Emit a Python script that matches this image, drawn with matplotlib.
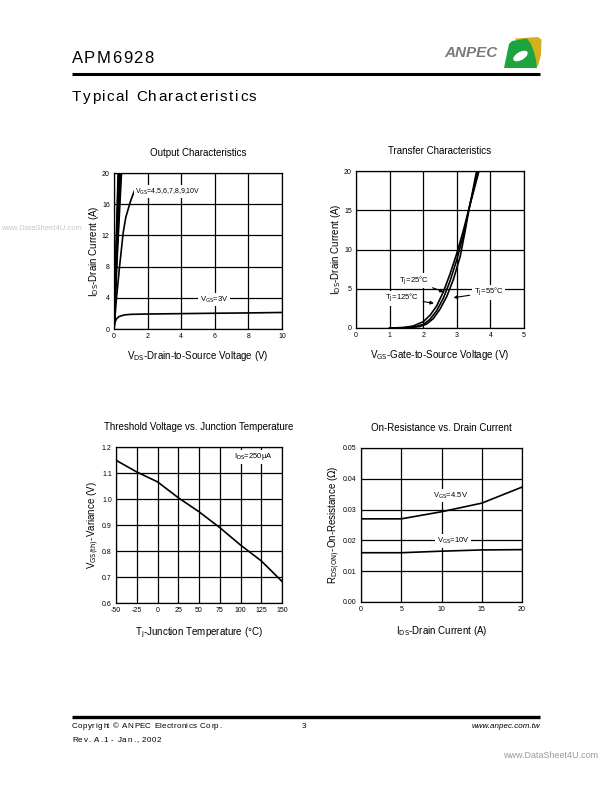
#!/usr/bin/env python3
# -*- coding: utf-8 -*-
# APM6928 datasheet page: typical characteristics (4 small plots)

import numpy as np
import matplotlib
matplotlib.use("Agg")
import matplotlib.pyplot as plt
from matplotlib.patches import Polygon, Ellipse

plt.rcParams["font.family"] = ["Liberation Sans Narrow", "Liberation Sans", "DejaVu Sans"]
plt.rcParams["mathtext.fontset"] = "custom"
plt.rcParams["mathtext.rm"] = "Liberation Sans Narrow"
plt.rcParams["mathtext.it"] = "Liberation Sans Narrow"
plt.rcParams["axes.unicode_minus"] = False

#%% data read from the page
# output characteristics
vds_3v = [0, 0.05, 0.15, 0.3, 0.6, 1.0, 2, 4, 6, 8, 10]
ids_3v = [0, 0.8, 1.3, 1.6, 1.8, 1.88, 1.92, 1.97, 2.02, 2.06, 2.12]
vds_4v = [0, 0.15, 0.34, 0.55, 0.7, 0.85, 1.0, 1.25]
ids_4v = [0, 4.0, 8.2, 12.4, 14.3, 15.4, 16.5, 17.9]
vds_hi_end = [0.45, 0.40, 0.35, 0.30, 0.27, 0.24]   # 5..10V, V at 20A
ids_hi = [0, 10.5, 20]

# transfer characteristics
vgs_125 = [1.0, 1.4, 1.7, 2.0, 2.2, 2.4, 2.6, 2.8, 3.0, 3.2, 3.35, 3.5, 3.66]
id_125 = [0, 0.05, 0.25, 0.8, 1.6, 2.8, 4.6, 6.9, 9.5, 12.5, 15.0, 17.4, 20]
vgs_25 = [1.0, 1.5, 1.8, 2.0, 2.2, 2.4, 2.6, 2.8, 3.0, 3.2, 3.35, 3.5, 3.62]
id_25 = [0, 0.05, 0.2, 0.45, 1.1, 2.2, 3.8, 6.0, 8.7, 11.9, 15.0, 17.7, 20]
vgs_m55 = [1.2, 1.6, 1.9, 2.1, 2.3, 2.5, 2.7, 2.9, 3.1, 3.25, 3.35, 3.48, 3.59]
id_m55 = [0, 0.05, 0.2, 0.5, 1.2, 2.4, 4.0, 6.2, 9.1, 12.4, 14.8, 17.6, 20]

# threshold voltage vs junction temperature
tj = [-50, -25, 0, 25, 50, 75, 100, 125, 150]
vth = [1.149, 1.104, 1.066, 1.005, 0.951, 0.890, 0.823, 0.762, 0.683]

# on-resistance vs drain current
ids_r = [0, 5, 10, 15, 20]
rds_45 = [0.027, 0.027, 0.0293, 0.0321, 0.0373]
rds_10 = [0.016, 0.016, 0.0165, 0.0169, 0.0170]

W, H = 612, 792
fig = plt.figure(figsize=(W / 100, H / 100), dpi=100)
renderer = fig.canvas.get_renderer()


def box(l, t, r, b):
    return [l / W, 1 - b / H, (r - l) / W, (b - t) / H]


def ftext(x, y, s, **kw):
    return fig.text(x / W, 1 - y / H, s, **kw)


def spaced(x, y, s, gap, **kw):
    # letter-spaced text, one glyph at a time, on a common baseline
    for ch in s:
        t = ftext(round(x), y, ch, ha="left", va="baseline", **kw)
        w = t.get_window_extent(renderer).width
        x += max(w, 2.0) + gap


def setup(ax, xlim, ylim, xt, yt, fmt):
    ax.set_xlim(*xlim)
    ax.set_ylim(*ylim)
    ax.set_xticks(xt)
    ax.set_xticklabels([str(v) for v in xt], family=["Liberation Sans"])
    ax.set_yticks(yt)
    ax.set_yticklabels([fmt.format(v) for v in yt], family=["Liberation Sans"])
    ax.grid(True, color="black", lw=0.9)
    ax.tick_params(length=0, labelsize=5, pad=3)
    for s in ax.spines.values():
        s.set_linewidth(0.9)


lbl = dict(fontsize=7)
wbox = dict(facecolor="white", edgecolor="none", pad=1)
tpad = 12

#%% output characteristics
ax1 = fig.add_axes(box(114, 173, 282, 329))
setup(ax1, (0, 10), (0, 20), range(0, 11, 2), range(0, 21, 4), "{:d}")
ax1.plot(vds_3v, ids_3v, "k-", lw=1.2)
ax1.plot(vds_4v, ids_4v, "k-", lw=1.2)
for v in vds_hi_end:
    ax1.plot([0, v * 0.5, v], ids_hi, "k-", lw=1.1)
ax1.text(1.27, 17.6, r"V$_{\mathrm{GS}}$=4,5,6,7,8,9,10V", fontsize=5, va="center", bbox=wbox)
ax1.text(5.1, 3.8, r"V$_{\mathrm{GS}}$=3V", fontsize=5.5, va="center", bbox=wbox)
ax1.set_title("Output Characteristics", fontsize=7, pad=tpad)
ax1.set_xlabel(r"V$_{\mathrm{DS}}$-Drain-to-Source Voltage (V)", labelpad=6, **lbl)
ax1.set_ylabel(r"I$_{\mathrm{DS}}$-Drain Current (A)", labelpad=1, **lbl)

#%% transfer characteristics
ax2 = fig.add_axes(box(356, 171, 524, 328))
setup(ax2, (0, 5), (0, 20), range(0, 6), range(0, 21, 5), "{:d}")
ax2.plot(vgs_125, id_125, "k-", lw=1.2)
ax2.plot(vgs_25, id_25, "k-", lw=1.2)
ax2.plot(vgs_m55, id_m55, "k-", lw=1.2)
arr = dict(arrowstyle="-|>", color="black", lw=0.8, mutation_scale=5)
ax2.annotate(r"T$_{\mathrm{J}}$=25°C", xy=(2.69, 4.45), xytext=(1.72, 6.05), fontsize=5.5,
             ha="center", va="center", arrowprops=arr, bbox=wbox)
ax2.annotate(r"T$_{\mathrm{J}}$=125°C", xy=(2.40, 3.09), xytext=(1.37, 3.81), fontsize=5.5,
             ha="center", va="center", arrowprops=arr, bbox=wbox)
ax2.annotate(r"T$_{\mathrm{J}}$=55°C", xy=(2.82, 3.81), xytext=(3.95, 4.53), fontsize=5.5,
             ha="center", va="center", arrowprops=arr, bbox=wbox)
ax2.set_title("Transfer Characteristics", fontsize=7, pad=tpad)
ax2.set_xlabel(r"V$_{\mathrm{GS}}$-Gate-to-Source Voltage (V)", labelpad=6, **lbl)
ax2.set_ylabel(r"I$_{\mathrm{DS}}$-Drain Current (A)", labelpad=1, **lbl)

#%% threshold voltage
ax3 = fig.add_axes(box(116, 447, 282, 603))
setup(ax3, (-50, 150), (0.6, 1.2), list(range(-50, 151, 25)), np.arange(0.6, 1.21, 0.1), "{:.1f}")
ax3.plot(tj, vth, "k-", lw=1.2)
ax3.text(92, 1.162, r"I$_{\mathrm{DS}}$=250μA", fontsize=5.5, va="center", bbox=wbox)
ax3.set_title("Threshold Voltage vs. Junction Temperature", fontsize=7, pad=tpad)
ax3.set_xlabel(r"T$_{\mathrm{j}}$-Junction Temperature (°C)", labelpad=8, **lbl)
ax3.set_ylabel(r"V$_{\mathrm{GS(th)}}$-Variance (V)", labelpad=1, **lbl)

#%% on-resistance
ax4 = fig.add_axes(box(361, 448, 522, 602))
setup(ax4, (0, 20), (0, 0.05), list(range(0, 21, 5)), np.arange(0, 0.051, 0.01), "{:.2f}")
ax4.plot(ids_r, rds_45, "k-", lw=1.2)
ax4.plot(ids_r, rds_10, "k-", lw=1.2)
ax4.text(8.96, 0.0345, r"V$_{\mathrm{GS}}$=4.5V", fontsize=5.5, va="center", bbox=wbox)
ax4.text(9.42, 0.0198, r"V$_{\mathrm{GS}}$=10V", fontsize=5.5, va="center", bbox=wbox)
ax4.set_title("On-Resistance vs. Drain Current", fontsize=7, pad=tpad)
ax4.set_xlabel(r"I$_{\mathrm{DS}}$-Drain Current (A)", labelpad=8, **lbl)
ax4.set_ylabel(r"R$_{\mathrm{DS(ON)}}$-On-Resistance ($\Omega$)", labelpad=1, **lbl)

#%% page header / footer
deco = fig.add_axes([0, 0, 1, 1], zorder=-1)
deco.set_xlim(0, W)
deco.set_ylim(H, 0)
deco.axis("off")
deco.plot([72, 540], [73.5, 73.5], color="black", lw=2.2, solid_capstyle="butt")
deco.plot([72, 540], [717, 717], color="black", lw=2.4, solid_capstyle="butt")

# logo
deco.add_patch(Polygon([[515, 38.5], [538, 37], [541.5, 39.5], [541, 55], [538, 66], [530, 66]],
                       closed=True, facecolor="#d4b01e", edgecolor="none"))
deco.add_patch(Polygon([[504, 68], [509, 44], [512, 41], [527, 38.5], [531, 44], [534, 52],
                        [536, 60], [537, 68]],
                       closed=True, facecolor="#1ca43f", edgecolor="none"))
deco.add_patch(Ellipse((520.5, 56), 16, 8, angle=-30, facecolor="white", edgecolor="none"))
ftext(471, 53, "ANPEC", fontsize=11, style="italic", fontweight="bold", color="#7a7a7a",
      ha="center", va="center", family=["Liberation Sans"])

hdr = dict(family=["Liberation Sans"])
spaced(72, 63, "APM6928", 1.3, fontsize=12, **hdr)
spaced(72, 101, "Typical Characteristics", 1.4, fontsize=11, **hdr)

foot = dict(fontsize=5.8, family=["Liberation Sans"])
spaced(72, 728, "Copyright © ANPEC Electronics Corp.", 0.4, **foot)
ftext(304, 728, "3", ha="center", va="baseline", **foot)
ftext(540, 728, "www.anpec.com.tw", ha="right", va="baseline", style="italic", **foot)
spaced(72, 742, "Rev. A.1 - Jan., 2002", 0.7, **foot)
ftext(503, 756, "www.DataSheet4U.com", ha="left", fontsize=6.5, color="#9a9a9a", va="center",
      family=["Liberation Sans"])
ftext(1, 229, "www.DataSheet4U.com", ha="left", fontsize=5.5, color="#c8c8c8", va="center",
      family=["Liberation Sans"])

fig.savefig("out.png", dpi=100)
